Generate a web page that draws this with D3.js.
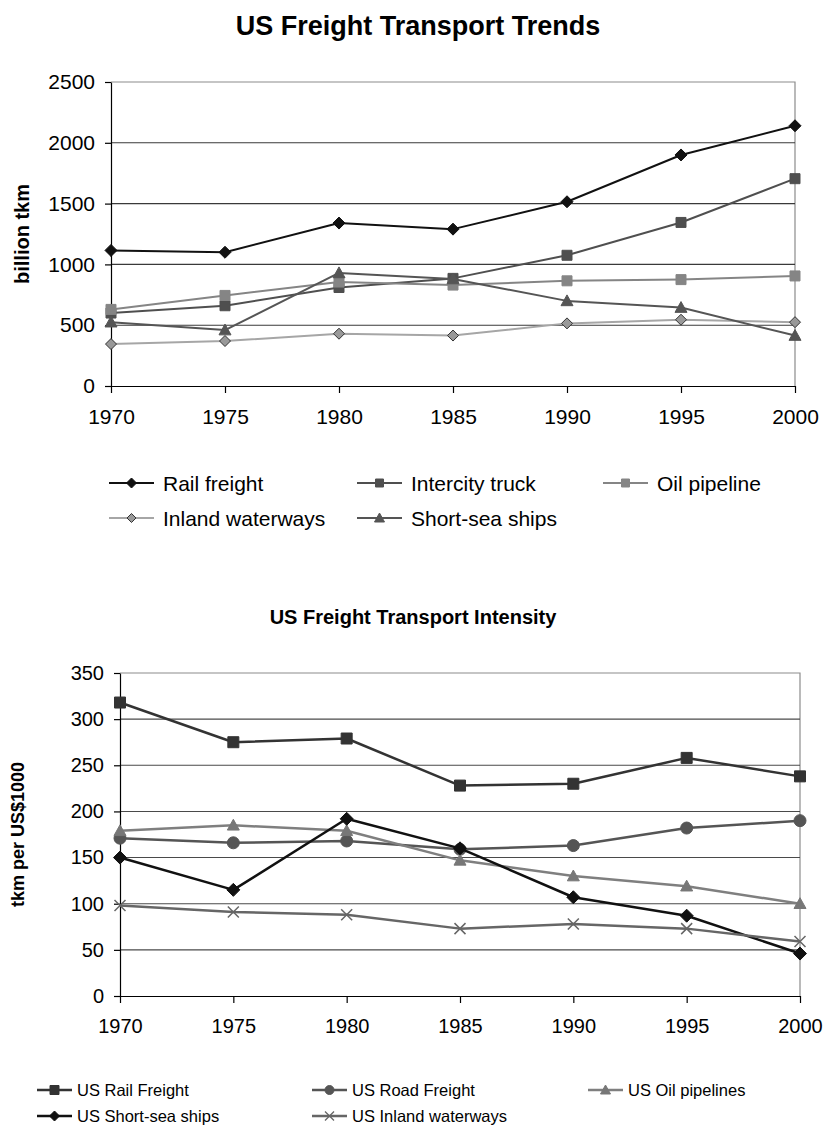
<!DOCTYPE html>
<html>
<head>
<meta charset="utf-8">
<script src="https://cdn.jsdelivr.net/npm/d3@7"></script>
<style>
  html, body { margin: 0; padding: 0; background: #fff; }
  svg { display: block; font-family: "Liberation Sans", Arial, sans-serif; }
</style>
</head>
<body>
<svg id="chart" width="827" height="1131"></svg>
<script>
// ---- data ----
const years = [1970, 1975, 1980, 1985, 1990, 1995, 2000];

// Freight volume, billion tkm
const railFreight     = [1115, 1100, 1340, 1290, 1515, 1900, 2140];
const intercityTruck  = [600, 660, 810, 885, 1075, 1345, 1705];
const oilPipeline     = [630, 745, 855, 830, 865, 875, 905];
const inlandWaterways = [345, 370, 430, 415, 515, 545, 525];
const shortSeaShips   = [525, 460, 930, 880, 700, 645, 415];
const trendTicks = [0, 500, 1000, 1500, 2000, 2500];

// Freight intensity, tkm per US$1000
const usRailFreight     = [318, 275, 279, 228, 230, 258, 238];
const usRoadFreight     = [171, 166, 168, 159, 163, 182, 190];
const usOilPipelines    = [179, 185, 179, 147, 130, 119, 100];
const usShortSeaShips   = [150, 115, 192, 160, 107, 87, 46];
const usInlandWaterways = [98, 91, 88, 73, 78, 73, 59];
const intensityTicks = [0, 50, 100, 150, 200, 250, 300, 350];

// ---- marker shapes ----
function markerPath(kind, s) {
  const r = s / 2;
  switch (kind) {
    case "diamond": return `M0,${-r}L${r},0L0,${r}L${-r},0Z`;
    case "square": return `M${-r},${-r}H${r}V${r}H${-r}Z`;
    case "triangle": return `M0,${-r}L${r},${r * 0.8}L${-r},${r * 0.8}Z`;
    case "circle": return `M${r},0A${r},${r} 0 1,1 ${-r},0A${r},${r} 0 1,1 ${r},0Z`;
    case "times": return `M${-r},${-r}L${r},${r}M${r},${-r}L${-r},${r}`;
  }
}

const svg = d3.select("#chart");

function drawPanel(cfg) {
  const g = svg.append("g");
  const x = d3.scaleLinear().domain([1970, 2000]).range([cfg.left, cfg.right]);
  const y = d3.scaleLinear().domain([0, cfg.yMax]).range([cfg.bottom, cfg.top]);

  // title
  g.append("text")
    .attr("x", cfg.titleX).attr("y", cfg.titleY)
    .attr("text-anchor", "middle")
    .attr("font-weight", "bold")
    .attr("font-size", cfg.titleSize)
    .text(cfg.title);

  // plot border (top/right in gray)
  g.append("path")
    .attr("d", `M${cfg.left},${cfg.top}H${cfg.right}V${cfg.bottom}`)
    .attr("fill", "none").attr("stroke", "#8c8c8c").attr("stroke-width", 1.2);

  // gridlines
  g.append("g")
    .selectAll("line")
    .data(cfg.ticks.filter(d => d > 0 && d < cfg.yMax))
    .join("line")
    .attr("x1", cfg.left).attr("x2", cfg.right)
    .attr("y1", d => y(d)).attr("y2", d => y(d))
    .attr("stroke", cfg.gridColor).attr("stroke-width", 1.1);

  // y axis
  const yAxis = g.append("g")
    .attr("transform", `translate(${cfg.left},0)`)
    .call(d3.axisLeft(y).tickValues(cfg.ticks).tickFormat(d3.format("d"))
      .tickSize(6).tickPadding(10).tickSizeOuter(0));
  yAxis.select(".domain").attr("stroke", "#000").attr("stroke-width", 1.2);
  yAxis.selectAll(".tick line").attr("stroke", "#000").attr("stroke-width", 1.2);
  yAxis.selectAll(".tick text")
    .attr("font-size", cfg.tickSize).attr("fill", "#000")
    .attr("font-family", "Liberation Sans, Arial, sans-serif");

  // x axis
  const xAxis = g.append("g")
    .attr("transform", `translate(0,${cfg.bottom})`)
    .call(d3.axisBottom(x).tickValues(years).tickFormat(d3.format("d"))
      .tickSize(7).tickPadding(cfg.xPad).tickSizeOuter(0));
  xAxis.select(".domain").attr("stroke", "#000").attr("stroke-width", 1.2);
  xAxis.selectAll(".tick line").attr("stroke", "#000").attr("stroke-width", 1.2);
  xAxis.selectAll(".tick text")
    .attr("font-size", cfg.tickSize).attr("fill", "#000")
    .attr("font-family", "Liberation Sans, Arial, sans-serif");

  // y axis title
  g.append("text")
    .attr("transform", `translate(${cfg.yLabelX},${(cfg.top + cfg.bottom) / 2}) rotate(-90)`)
    .attr("text-anchor", "middle")
    .attr("dominant-baseline", "central")
    .attr("font-weight", "bold")
    .attr("font-size", cfg.yLabelSize)
    .text(cfg.yLabel);

  // series
  const line = d3.line().x((d, i) => x(years[i])).y(d => y(d));
  cfg.series.forEach(s => {
    g.append("path")
      .attr("d", line(s.values))
      .attr("fill", "none")
      .attr("stroke", s.color)
      .attr("stroke-width", cfg.lineWidth)
      .attr("stroke-linejoin", "round");
    g.append("g").selectAll("path")
      .data(s.values)
      .join("path")
      .attr("transform", (d, i) => `translate(${x(years[i])},${y(d)})`)
      .attr("d", markerPath(s.marker, s.size))
      .attr("fill", s.marker === "times" ? "none" : s.fill)
      .attr("stroke", s.stroke)
      .attr("stroke-width", s.marker === "times" ? 1.5 : 1);
  });

  // legend
  const lg = g.append("g");
  cfg.series.forEach((s, i) => {
    const col = cfg.legendCols[i];
    const ly = cfg.legendRows[cfg.legendRowOf[i]];
    lg.append("line")
      .attr("x1", col).attr("x2", col + cfg.legendLine)
      .attr("y1", ly).attr("y2", ly)
      .attr("stroke", s.color).attr("stroke-width", cfg.lineWidth);
    lg.append("path")
      .attr("transform", `translate(${col + cfg.legendLine / 2},${ly})`)
      .attr("d", markerPath(s.marker, s.legendSize))
      .attr("fill", s.marker === "times" ? "none" : s.fill)
      .attr("stroke", s.stroke)
      .attr("stroke-width", s.marker === "times" ? 1.3 : 1);
    lg.append("text")
      .attr("x", col + cfg.legendLine + cfg.legendGap).attr("y", ly)
      .attr("dominant-baseline", "central")
      .attr("font-size", cfg.legendSize)
      .text(s.name);
  });
}

drawPanel({
  title: "US Freight Transport Trends", titleX: 418, titleY: 35, titleSize: 27,
  left: 111, right: 795, top: 82, bottom: 386, yMax: 2500,
  ticks: trendTicks, gridColor: "#3a3a3a", tickSize: 21, xPad: 16,
  yLabel: "billion tkm", yLabelX: 22, yLabelSize: 20,
  lineWidth: 2,
  series: [
    { name: "Rail freight", values: railFreight, color: "#111", fill: "#111", stroke: "#111", marker: "diamond", size: 12, legendSize: 10 },
    { name: "Intercity truck", values: intercityTruck, color: "#4f4f4f", fill: "#4f4f4f", stroke: "#4f4f4f", marker: "square", size: 10, legendSize: 8 },
    { name: "Oil pipeline", values: oilPipeline, color: "#858585", fill: "#858585", stroke: "#858585", marker: "square", size: 10, legendSize: 8 },
    { name: "Inland waterways", values: inlandWaterways, color: "#a6a6a6", fill: "#999", stroke: "#333", marker: "diamond", size: 11, legendSize: 9 },
    { name: "Short-sea ships", values: shortSeaShips, color: "#555", fill: "#555", stroke: "#555", marker: "triangle", size: 12, legendSize: 10 }
  ],
  legendCols: [109, 357, 603, 109, 357], legendRowOf: [0, 0, 0, 1, 1],
  legendRows: [483, 518], legendLine: 45, legendGap: 9, legendSize: 21
});

drawPanel({
  title: "US Freight Transport Intensity", titleX: 413, titleY: 624, titleSize: 20,
  left: 120, right: 800, top: 673, bottom: 996, yMax: 350,
  ticks: intensityTicks, gridColor: "#4a4a4a", tickSize: 20, xPad: 16,
  yLabel: "tkm per US$1000", yLabelX: 18, yLabelSize: 18,
  lineWidth: 2.5,
  series: [
    { name: "US Rail Freight", values: usRailFreight, color: "#333", fill: "#333", stroke: "#333", marker: "square", size: 11, legendSize: 9 },
    { name: "US Road Freight", values: usRoadFreight, color: "#555", fill: "#555", stroke: "#555", marker: "circle", size: 12, legendSize: 9 },
    { name: "US Oil pipelines", values: usOilPipelines, color: "#7f7f7f", fill: "#777", stroke: "#777", marker: "triangle", size: 12, legendSize: 10 },
    { name: "US Short-sea ships", values: usShortSeaShips, color: "#111", fill: "#111", stroke: "#111", marker: "diamond", size: 13, legendSize: 10 },
    { name: "US Inland waterways", values: usInlandWaterways, color: "#666", fill: "#666", stroke: "#666", marker: "times", size: 11, legendSize: 9 }
  ],
  legendCols: [37, 312, 588, 37, 312], legendRowOf: [0, 0, 0, 1, 1],
  legendRows: [1090, 1116], legendLine: 35, legendGap: 5, legendSize: 16.5
});
</script>
</body>
</html>
